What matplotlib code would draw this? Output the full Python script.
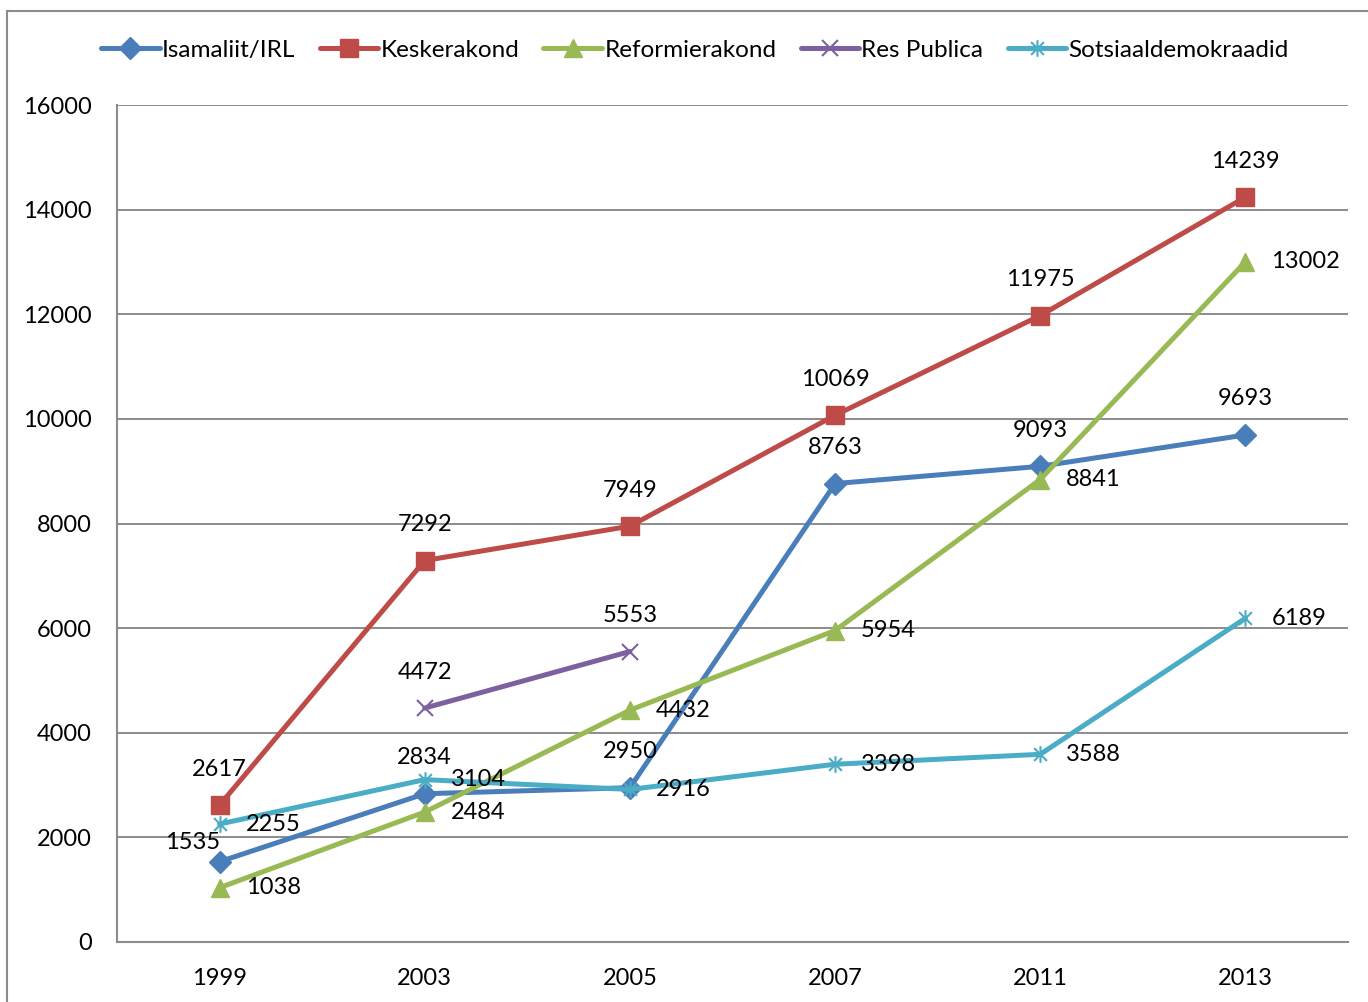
import numpy as np
import matplotlib.pyplot as plt
from matplotlib.path import Path
from matplotlib.patches import Rectangle

plt.rcParams['font.family'] = ['Lato', 'DejaVu Sans']

years = ["1999", "2003", "2005", "2007", "2011", "2013"]
isamaliit = [1535, 2834, 2950, 8763, 9093, 9693]
keskerakond = [2617, 7292, 7949, 10069, 11975, 14239]
reformierakond = [1038, 2484, 4432, 5954, 8841, 13002]
res_publica = [np.nan, 4472, 5553, np.nan, np.nan, np.nan]
sotsiaal = [2255, 3104, 2916, 3398, 3588, 6189]

# Excel style asterisk: x plus vertical line
star = Path([(-1, -1), (1, 1), (-1, 1), (1, -1), (0, -1.3), (0, 1.3)],
            [Path.MOVETO, Path.LINETO, Path.MOVETO, Path.LINETO, Path.MOVETO, Path.LINETO])

series = [
    ("Isamaliit/IRL", isamaliit, "#4A7EBB", "D", 11, "above"),
    ("Keskerakond", keskerakond, "#BE4B48", "s", 13, "above"),
    ("Reformierakond", reformierakond, "#98B954", "^", 13, "right"),
    ("Res Publica", res_publica, "#7D60A0", "x", 12, "above"),
    ("Sotsiaaldemokraadid", sotsiaal, "#4BACC6", star, 12, "right"),
]

# one label was moved by hand in the original
moved = {("Isamaliit/IRL", 0): (-27, 19)}

fs = 17
fig = plt.figure(figsize=(13.68, 10.02), dpi=100)
ax = fig.add_axes([117 / 1368, 1 - 942 / 1002, (1348 - 117) / 1368, (942 - 105) / 1002])

# chart frame
fig.patches.append(Rectangle((7 / 1368, -0.1), 1.2, 1 - 11 / 1002 + 0.1, transform=fig.transFigure,
                             fill=False, edgecolor="#8C8C8C", linewidth=1.5))

x = np.arange(len(years))
for name, vals, color, mk, ms, pos in series:
    ax.plot(x, vals, color=color, lw=3.6, marker=mk, markersize=ms,
            markeredgewidth=1.5 if (mk == "x" or mk is star) else 1,
            markeredgecolor=color, markerfacecolor=color, label=name,
            solid_capstyle="round", clip_on=False)
    for i, v in enumerate(vals):
        if np.isnan(v):
            continue
        if (name, i) in moved:
            off, ha = moved[(name, i)], "center"
        elif pos == "above":
            off, ha = (0, 36), "center"
        else:
            off, ha = (26, 0), "left"
        ax.annotate(str(v), (x[i], v), xytext=off, textcoords="offset pixels",
                    ha=ha, va="center", fontsize=fs)

ax.set_xlim(-0.5, len(years) - 0.5)
ax.set_ylim(0, 16000)
ax.set_yticks(range(0, 16001, 2000))
ax.set_xticks(x)
ax.set_xticklabels(years)
ax.tick_params(length=0, labelsize=fs, pad=19)
ax.tick_params(axis="y", pad=18)
ax.yaxis.grid(True, color="#8C8C8C", lw=1.4)
ax.set_axisbelow(True)
for s in ["top", "right"]:
    ax.spines[s].set_visible(False)
for s in ["left", "bottom"]:
    ax.spines[s].set_color("#8C8C8C")
    ax.spines[s].set_linewidth(1.5)

fig.legend(loc="center", bbox_to_anchor=(0.508, 1 - 50 / 1002), ncol=5, frameon=False,
           fontsize=17.5, handlelength=2.4, handletextpad=0.1, columnspacing=1.0)

fig.savefig("out.png", dpi=100)
